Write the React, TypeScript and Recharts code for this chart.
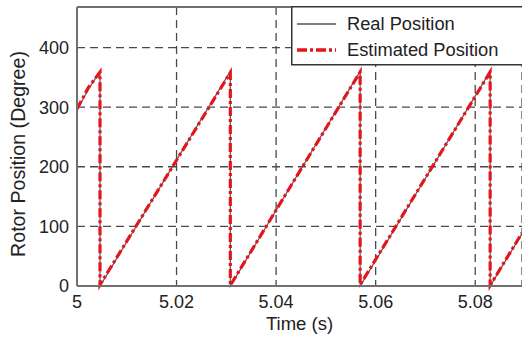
import React from 'react';
import {
  LineChart,
  Line,
  XAxis,
  YAxis,
  CartesianGrid,
  ReferenceLine
} from 'recharts';

// Sawtooth rotor angle, wrapping every ~26 ms
const time = [5.0, 5.0023, 5.00462, 5.00462, 5.0308, 5.0308, 5.05688, 5.05688, 5.083, 5.083, 5.0894];
const realPos = [295, 330, 360, 0, 360, 0, 360, 0, 360, 0, 88];
const estPos = [297, 333, 359, 2, 358, 1, 359, 2, 359, 1, 89];

const xTicks = [5, 5.02, 5.04, 5.06, 5.08];
const yTicks = [0, 100, 200, 300, 400];

const FONT = '"Liberation Sans", Arial, Helvetica, sans-serif';
const RED = '#e4151b';
const GRID = '#4a4a4a';
const AXIS = '#707070';

const chartData = time.map((t, i) => ({ t, real: realPos[i], est: estPos[i] }));

// legend box sits in the top-right corner, over the plot
const LegendBox = () => (
  <svg
    width={240}
    height={60}
    style={{ position: 'absolute', left: 291, top: 6, display: 'block' }}
  >
    <rect x={0.75} y={0.75} width={260} height={58} fill="#fff" stroke="#333" strokeWidth={1.5} />
    <line x1={6} y1={18} x2={45} y2={18} stroke="#555" strokeWidth={1.5} />
    <text x={56} y={24} fontSize={18.3} fontFamily={FONT} fill="#222">Real Position</text>
    <line x1={6} y1={44} x2={45} y2={44} stroke={RED} strokeWidth={3.5} strokeDasharray="10 3 3 3" />
    <text x={56} y={50} fontSize={18.3} fontFamily={FONT} fill="#222">Estimated Position</text>
  </svg>
);

const YLabel = () => (
  <text
    x={25}
    y={154}
    transform="rotate(-90, 25, 154)"
    textAnchor="middle"
    fontSize={19.6}
    fontFamily={FONT}
    fill="#222"
  >
    Rotor Position (Degree)
  </text>
);

export default function App() {
  return (
    <div style={{ position: 'absolute', left: 0, top: 0, width: 522, height: 337, overflow: 'hidden', background: '#fff' }}>
      <LineChart width={522} height={337} data={chartData} margin={{ top: 7, right: 0, bottom: 0, left: 0 }}>
        <CartesianGrid stroke={GRID} strokeWidth={1.3} strokeDasharray="8 5" />
        <XAxis
          dataKey="t"
          type="number"
          domain={[5, 5.0894]}
          allowDataOverflow
          ticks={xTicks}
          tickFormatter={(v: number) => String(+v.toFixed(2))}
          height={51}
          tickSize={0}
          tickMargin={9}
          tick={{ fontSize: 18, fill: '#222', fontFamily: FONT }}
          axisLine={{ stroke: AXIS, strokeWidth: 2 }}
          label={{ value: 'Time (s)', position: 'insideBottom', offset: 7, fontSize: 18.5, fill: '#222', fontFamily: FONT }}
        />
        <YAxis
          type="number"
          domain={[0, 468]}
          ticks={yTicks}
          width={77}
          tickSize={0}
          tickMargin={8}
          tick={{ fontSize: 18, fill: '#222', fontFamily: FONT }}
          axisLine={{ stroke: AXIS, strokeWidth: 2 }}
          label={<YLabel />}
        />
        <ReferenceLine y={468} stroke={AXIS} strokeWidth={2} />
        <Line
          type="linear"
          dataKey="real"
          name="Real Position"
          stroke="#555"
          strokeWidth={1.2}
          dot={false}
          isAnimationActive={false}
        />
        <Line
          type="linear"
          dataKey="est"
          name="Estimated Position"
          stroke={RED}
          strokeWidth={3.2}
          strokeDasharray="9 3 3 3"
          dot={false}
          isAnimationActive={false}
        />
      </LineChart>
      <LegendBox />
    </div>
  );
}
